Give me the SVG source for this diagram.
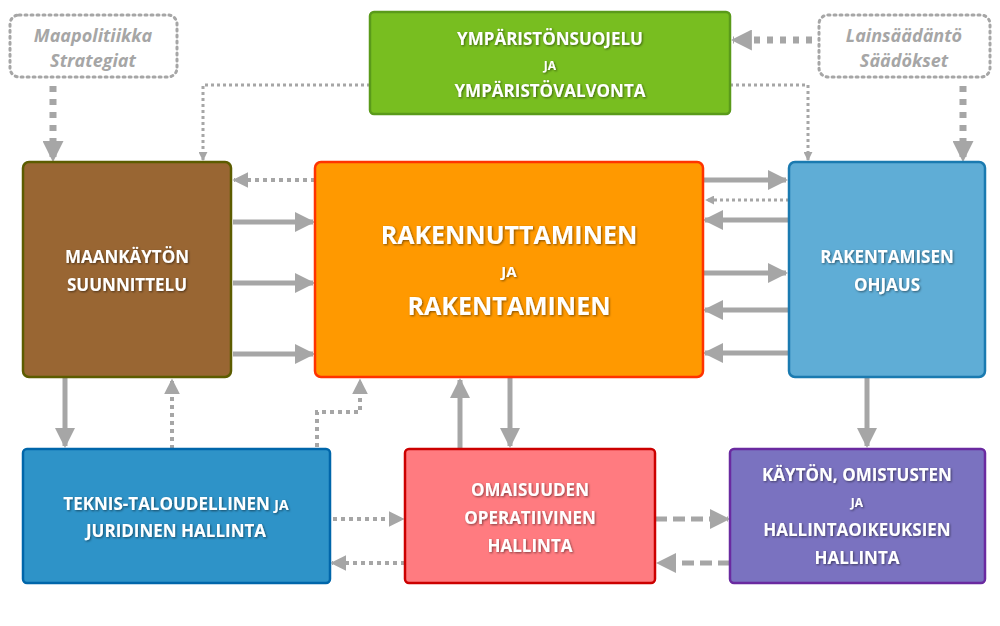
<svg xmlns="http://www.w3.org/2000/svg" width="1000" height="626" viewBox="0 0 1000 626">
<defs>
<marker id="a" viewBox="0 0 10 10" refX="9" refY="5" markerWidth="4" markerHeight="4" orient="auto" markerUnits="strokeWidth"><path d="M0,0L10,5L0,10z" fill="#a6a6a6"/></marker>
<marker id="b" viewBox="0 0 10 10" refX="9" refY="5" markerWidth="3" markerHeight="3" orient="auto" markerUnits="strokeWidth"><path d="M0,0L10,5L0,10z" fill="#a6a6a6"/></marker>
<marker id="c" viewBox="0 0 10 10" refX="9" refY="5" markerWidth="5" markerHeight="5" orient="auto" markerUnits="strokeWidth"><path d="M0,0L10,5L0,10z" fill="#a6a6a6"/></marker>
<filter id="sh"><feDropShadow dx="1" dy="1" stdDeviation="0.8" flood-color="#000" flood-opacity="0.5"/></filter>
</defs>
<style>
.t{font-family:"Open Sans","Liberation Sans",sans-serif;font-weight:bold;fill:#fff;text-anchor:middle;filter:url(#sh)}
.g{font-family:"Open Sans","Liberation Sans",sans-serif;font-weight:bold;font-style:italic;fill:#a6a6a6;text-anchor:middle;font-size:18px}
.s{fill:none;stroke:#a6a6a6;stroke-width:5;marker-end:url(#a)}
.d{fill:none;stroke:#a6a6a6;stroke-width:4;stroke-dasharray:4 4;marker-end:url(#a)}
.dd{fill:none;stroke:#a6a6a6;stroke-width:5;stroke-dasharray:12 6;marker-end:url(#a)}
.dt{fill:none;stroke:#a6a6a6;stroke-width:3;stroke-dasharray:3 3;marker-end:url(#b)}
.bd{fill:none;stroke:#a6a6a6;stroke-width:7;stroke-dasharray:6 7;marker-end:url(#b)}
.x{fill:none;stroke:#a6a6a6;stroke-width:3;stroke-dasharray:2 4;stroke-linecap:round}
</style>
<rect width="1000" height="626" fill="#fff"/>
<g id="connectors">
<path class="bd" d="M53,86V160"/>
<path class="bd" d="M963,86V160"/>
<path class="bd" d="M812,40H733"/>
<path class="dt" d="M370,85H203V160"/>
<path class="dt" d="M730,85H808V160"/>
<path class="d" d="M315,180H234"/>
<path class="s" d="M233,222H313"/>
<path class="s" d="M233,283H313"/>
<path class="s" d="M233,354H313"/>
<path class="s" d="M703,180H786"/>
<path class="dt" d="M789,200H706"/>
<path class="s" d="M789,220H705"/>
<path class="s" d="M703,273H786"/>
<path class="s" d="M789,310H705"/>
<path class="s" d="M789,353H705"/>
<path class="s" d="M65,377V446"/>
<path class="d" d="M172,449V380"/>
<path class="d" d="M317,447V412H360V380"/>
<path class="s" d="M460,449V380"/>
<path class="s" d="M510,377V446"/>
<path class="s" d="M867,377V446"/>
<path class="d" d="M333,519H403"/>
<path class="d" d="M405,563H332"/>
<path class="dd" d="M655,519H728"/>
<path class="dd" d="M730,563H658"/>
</g>
<g id="maapolitiikka"><rect x="10" y="15" width="167" height="62" rx="9" class="x"/><text class="g" x="93" y="42">Maapolitiikka</text><text class="g" x="93" y="67">Strategiat</text></g>
<g id="lainsaadanto"><rect x="819" y="15" width="171" height="62" rx="9" class="x"/><text class="g" x="904" y="42">Lainsäädäntö</text><text class="g" x="904" y="67">Säädökset</text></g>
<g id="ymparisto"><rect x="370" y="12" width="360" height="102" rx="4" fill="#78be20" stroke="#5a9a1a" stroke-width="2.5"/><text class="t" x="550" y="45" font-size="17">YMPÄRISTÖNSUOJELU</text><text class="t" x="550" y="70" font-size="12">JA</text><text class="t" x="550" y="97" font-size="17">YMPÄRISTÖVALVONTA</text></g>
<g id="maankaytto"><rect x="23" y="162" width="208" height="215" rx="6" fill="#996633" stroke="#5c5c00" stroke-width="2.5"/><text class="t" x="127" y="263" font-size="17">MAANKÄYTÖN</text><text class="t" x="127" y="291" font-size="17">SUUNNITTELU</text></g>
<g id="rakennuttaminen"><rect x="315" y="162" width="388" height="215" rx="6" fill="#ff9900" stroke="#ff3300" stroke-width="2.5"/><text class="t" x="509" y="244" font-size="25">RAKENNUTTAMINEN</text><text class="t" x="509" y="277" font-size="15">JA</text><text class="t" x="509" y="315" font-size="25">RAKENTAMINEN</text></g>
<g id="ohjaus"><rect x="789" y="162" width="196" height="215" rx="6" fill="#5fadd6" stroke="#1a7ab0" stroke-width="2.5"/><text class="t" x="887" y="263" font-size="17">RAKENTAMISEN</text><text class="t" x="887" y="291" font-size="17">OHJAUS</text></g>
<g id="teknis"><rect x="23" y="449" width="307" height="134" rx="4" fill="#2e93c8" stroke="#0066aa" stroke-width="2.5"/><text class="t" x="176" y="510" font-size="17">TEKNIS-TALOUDELLINEN <tspan font-size="14">JA</tspan></text><text class="t" x="176" y="537" font-size="17">JURIDINEN HALLINTA</text></g>
<g id="omaisuus"><rect x="405" y="449" width="250" height="134" rx="4" fill="#ff7b80" stroke="#cc0000" stroke-width="2.5"/><text class="t" x="530" y="496" font-size="17">OMAISUUDEN</text><text class="t" x="530" y="524" font-size="17">OPERATIIVINEN</text><text class="t" x="530" y="552" font-size="17">HALLINTA</text></g>
<g id="kaytto"><rect x="730" y="449" width="255" height="134" rx="4" fill="#7a72c0" stroke="#6a2aa0" stroke-width="2.5"/><text class="t" x="857" y="481" font-size="17">KÄYTÖN, OMISTUSTEN</text><text class="t" x="857" y="507" font-size="12">JA</text><text class="t" x="857" y="536" font-size="17">HALLINTAOIKEUKSIEN</text><text class="t" x="857" y="564" font-size="17">HALLINTA</text></g>
</svg>
